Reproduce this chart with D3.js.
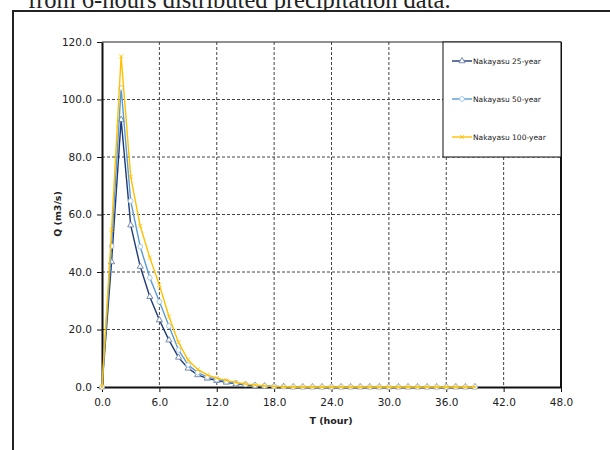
<!DOCTYPE html>
<html><head><meta charset="utf-8">
<script src="https://cdn.jsdelivr.net/npm/d3@7"></script>
<style>body{margin:0;background:#fff;} svg{display:block;}</style>
</head><body>
<svg id="c" width="610" height="450"></svg>
<script>
const hours = [0,1,2,3,4,5,6,7,8,9,10,11,12,13,14,15,16,17,18,19,20,21,22,23,24,25,26,27,28,29,30,31,32,33,34,35,36,37,38,39];
const q25  = [0,43.5,93,56.3,41.9,31.4,23.3,16.3,10.3,6.5,4.2,3.0,2.2,1.6,1.1,0.8,0.5,0.3,0.2,0.1,0,0,0,0,0,0,0,0,0,0,0,0,0,0,0,0,0,0,0,0];
const q50  = [0,49,104,64.7,48.8,38.0,29.7,21.2,12.9,7.7,5.0,3.5,2.6,1.9,1.3,0.9,0.6,0.4,0.2,0.1,0,0,0,0,0,0,0,0,0,0,0,0,0,0,0,0,0,0,0,0];
const q100 = [0,54.6,115,73.1,56,45,35.5,24.5,15.5,9.4,6.1,4.2,3.1,2.3,1.6,1.1,0.7,0.4,0.2,0.1,0,0,0,0,0,0,0,0,0,0,0,0,0,0,0,0,0,0,0,0];
const seriesNames = ["Nakayasu 25-year","Nakayasu 50-year","Nakayasu 100-year"];
const xTicks = [0,6,12,18,24,30,36,42,48];
const yTicks = [0,20,40,60,80,100,120];

const svg = d3.select("#c");
// caption fragment from the page above
svg.append("text").attr("x",28).attr("y",8)
  .attr("font-family","Liberation Serif, serif").attr("font-size",24.5).attr("fill","#222")
  .text("from 6-hours distributed precipitation data.");
// chart outer border
svg.append("rect").attr("x",13).attr("y",11).attr("width",640).attr("height",500)
  .attr("fill","#fff").attr("stroke","#222").attr("stroke-width",2);

const L=102,R=561,T=42,B=387;
const x = d3.scaleLinear().domain([0,48]).range([L,R]);
const y = d3.scaleLinear().domain([0,120]).range([B,T]);

// gridlines
const g = svg.append("g");
g.selectAll(".vg").data(xTicks.slice(1,-1)).join("line")
  .attr("x1",d=>x(d)).attr("x2",d=>x(d)).attr("y1",T).attr("y2",B)
  .attr("stroke","#444").attr("stroke-width",1).attr("stroke-dasharray","3,2");
g.selectAll(".hg").data(yTicks.slice(1,-1)).join("line")
  .attr("x1",L).attr("x2",R).attr("y1",d=>y(d)).attr("y2",d=>y(d))
  .attr("stroke","#444").attr("stroke-width",1).attr("stroke-dasharray","3,2");
// plot border top/right
svg.append("line").attr("x1",L).attr("x2",R).attr("y1",T).attr("y2",T).attr("stroke","#222").attr("stroke-width",1);
svg.append("line").attr("x1",R).attr("x2",R).attr("y1",T).attr("y2",B).attr("stroke","#111").attr("stroke-width",2);

// axes
const xAxis = svg.append("g").attr("transform",`translate(0,${B})`)
  .call(d3.axisBottom(x).tickValues(xTicks).tickFormat(d3.format(".1f")).tickSize(5).tickSizeOuter(0));
const yAxis = svg.append("g").attr("transform",`translate(${L},0)`)
  .call(d3.axisLeft(y).tickValues(yTicks).tickFormat(d3.format(".1f")).tickSize(5).tickSizeOuter(0));
[xAxis,yAxis].forEach(a=>{
  a.select(".domain").attr("stroke","#111").attr("stroke-width",2);
  a.selectAll(".tick line").attr("stroke","#111").attr("stroke-width",1);
  a.selectAll(".tick text").attr("font-family","DejaVu Sans, Verdana, sans-serif").attr("font-size",10.5).attr("fill","#222");
});
xAxis.selectAll(".tick text").attr("dy","1.0em");
yAxis.selectAll(".tick text").attr("x",-10);

// axis titles
svg.append("text").attr("x",331).attr("y",424).attr("text-anchor","middle")
  .attr("font-family","DejaVu Sans, Verdana, sans-serif").attr("font-weight","bold").attr("font-size",9.5).attr("fill","#222")
  .text("T (hour)");
svg.append("text").attr("transform","translate(61,214) rotate(-90)").attr("text-anchor","middle")
  .attr("font-family","DejaVu Sans, Verdana, sans-serif").attr("font-weight","bold").attr("font-size",9.5).attr("fill","#222")
  .text("Q (m3/s)");

const colors = ["#1f3a78","#5b9bd5","#ffc000"];
const data = [q25,q50,q100];
const line = d3.line().x((d,i)=>x(hours[i])).y(d=>y(d));
const sym = [d3.symbolTriangle, d3.symbolCircle, d3.symbolX];

function marker(sel, k){
  if(k===2){
    sel.append("path").attr("d",d3.symbol(d3.symbolX,14)()).attr("fill","none").attr("stroke",colors[k]).attr("stroke-width",0.8);
  } else {
    sel.append("path").attr("d",d3.symbol(sym[k], k===0?16:18)()).attr("fill","#fff").attr("stroke",k===0?"#6a7fa8":"#9cc3e6").attr("stroke-width",0.9);
  }
}

data.forEach((vals,k)=>{
  svg.append("path").datum(vals).attr("d",line).attr("fill","none").attr("stroke",colors[k]).attr("stroke-width",1.4);
  svg.append("g").selectAll("g").data(vals).join("g")
    .attr("transform",(d,i)=>`translate(${x(hours[i])},${y(d)})`)
    .each(function(){ marker(d3.select(this),k); });
});

// legend
const lg = svg.append("g");
lg.append("rect").attr("x",443).attr("y",42).attr("width",118).attr("height",115)
  .attr("fill","#fff").attr("stroke","#111").attr("stroke-width",1);
seriesNames.forEach((n,k)=>{
  const yy = 61 + k*38;
  lg.append("line").attr("x1",452).attr("x2",472).attr("y1",yy).attr("y2",yy).attr("stroke",colors[k]).attr("stroke-width",1.4);
  const m = lg.append("g").attr("transform",`translate(462,${yy})`);
  marker(m,k);
  lg.append("text").attr("x",473).attr("y",yy).attr("dy","0.35em")
    .attr("font-family","DejaVu Sans, Verdana, sans-serif").attr("font-size",7.5).attr("fill","#222").text(n);
});
</script>
</body></html>
